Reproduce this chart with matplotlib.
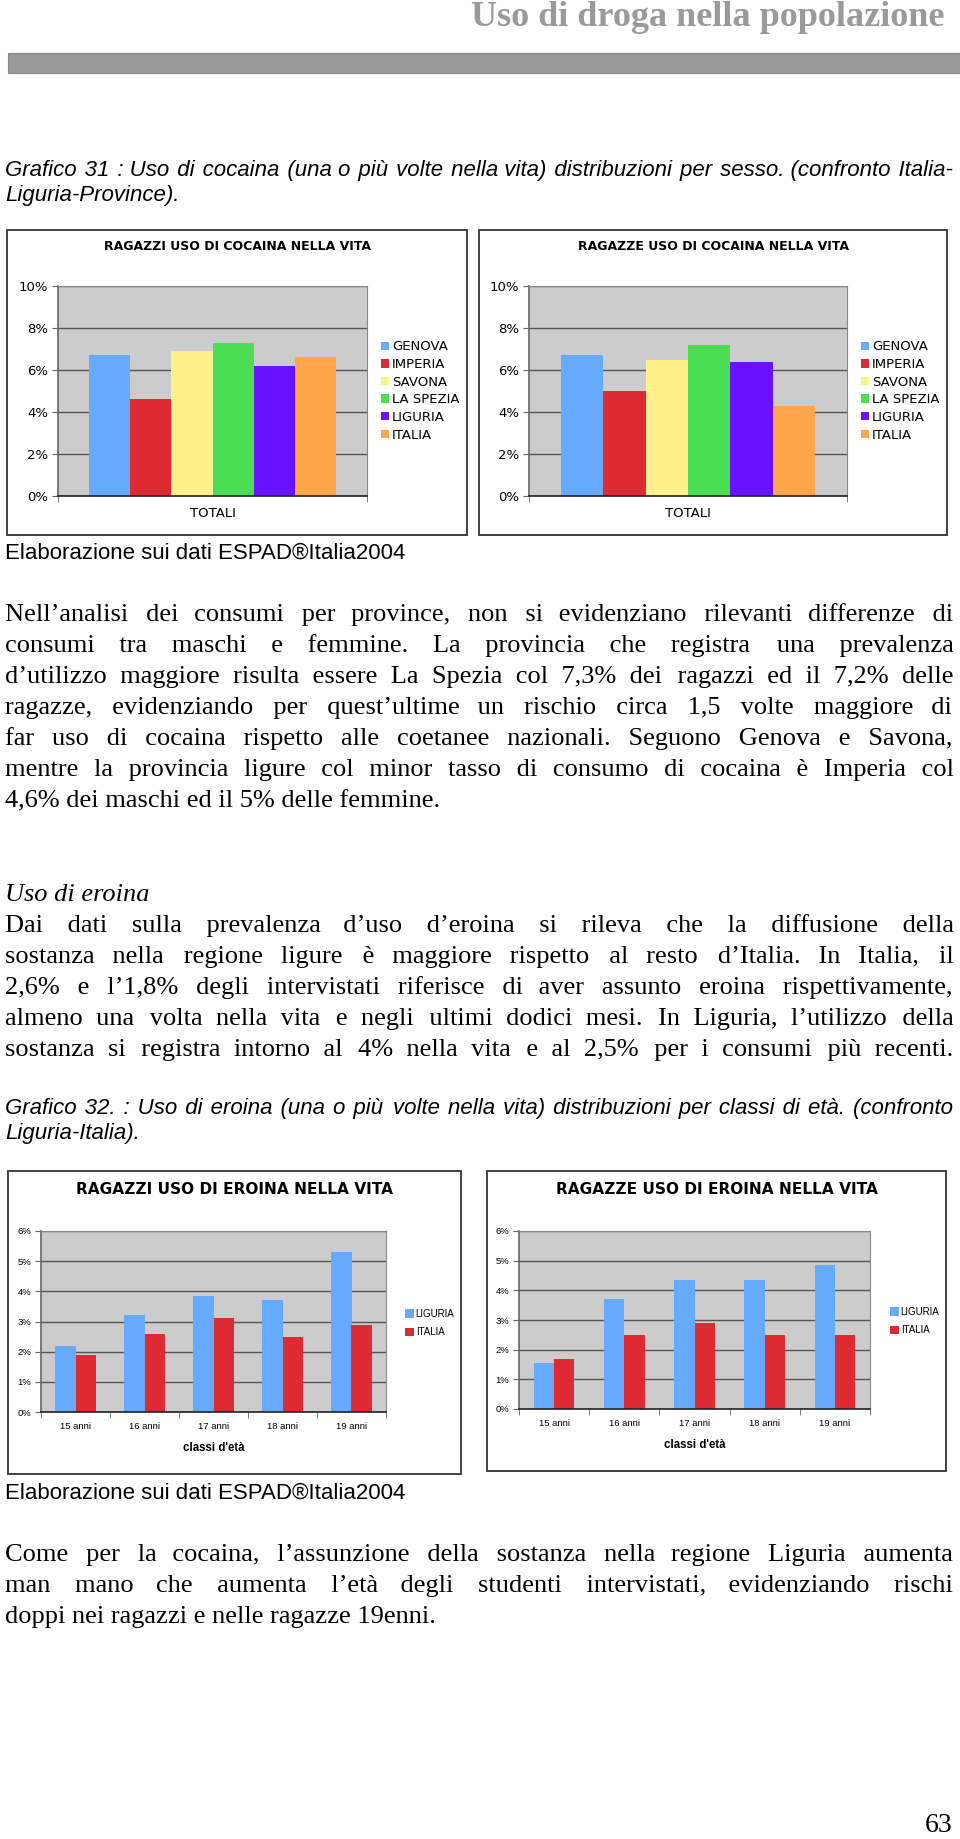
import matplotlib
matplotlib.use('Agg')
import matplotlib.pyplot as plt
from matplotlib.patches import Rectangle
import numpy as np

W, H = 960, 1839

# ---- data ----
province = ['GENOVA', 'IMPERIA', 'SAVONA', 'LA SPEZIA', 'LIGURIA', 'ITALIA']
province_colors = ['#66aaff', '#dd2a33', '#fff08c', '#4cdd55', '#6a12ff', '#ffa54c']
cocaina_ragazzi = [6.7, 4.6, 6.9, 7.3, 6.2, 6.6]
cocaina_ragazze = [6.7, 5.0, 6.5, 7.2, 6.4, 4.3]

eta = ['15 anni', '16 anni', '17 anni', '18 anni', '19 anni']
aree = ['LIGURIA', 'ITALIA']
aree_colors = ['#66aaff', '#dd2a33']
eroina_ragazzi_liguria = [2.2, 3.2, 3.85, 3.7, 5.3]
eroina_ragazzi_italia = [1.9, 2.6, 3.1, 2.5, 2.9]
eroina_ragazze_liguria = [1.55, 3.7, 4.35, 4.35, 4.85]
eroina_ragazze_italia = [1.7, 2.5, 2.9, 2.5, 2.5]

SERIF = ['Liberation Serif', 'DejaVu Serif']
SANS = ['Liberation Sans', 'DejaVu Sans']
VERD = 'DejaVu Sans'
BODY = 19
CAP = 16
HAIR = '\u200a'

fig = plt.figure(figsize=(W / 100, H / 100), dpi=100)
renderer = fig.canvas.get_renderer()


def fx(x):
    return x / W


def fy(y):
    return 1 - y / H


def rect(x0, yt, x1, yb):
    return [fx(x0), fy(yb), (x1 - x0) / W, (yb - yt) / H]


def text_width(s, **kw):
    t = fig.text(0, 0, s, **kw)
    w = t.get_window_extent(renderer).width
    t.remove()
    return w


def line_of_text(line, y, size, family, style='normal', fill=True, x0=5, x1=953):
    """One line of running text (y = middle of the lowercase letters).
    Justified lines get extra hair spaces between the words."""
    kw = dict(fontsize=size, family=family, style=style)
    s = line
    if fill:
        words = line.split(' ')
        natural = text_width(line, **kw)
        hair = (text_width('a' + HAIR * 20 + 'a', **kw) - text_width('aa', **kw)) / 20
        extra = (x1 - x0 - natural) / (len(words) - 1)
        s = words[0]
        want = used = 0.0
        for w in words[1:]:
            want += extra
            k = max(0, int(round((want - used) / hair)))
            used += k * hair
            s += ' ' + HAIR * k + w
    base = y + 0.24 * size * 100 / 72
    fig.text(fx(x0), fy(base), s, va='baseline', ha='left', **kw)


def box(x0, yt, x1, yb):
    fig.patches.append(Rectangle((fx(x0), fy(yb)), (x1 - x0) / W, (yb - yt) / H,
                                 transform=fig.transFigure, fill=False,
                                 edgecolor='#333333', linewidth=1.3))


def style_axes(ax, ymax, step, tick_size, tick_family):
    ax.set_facecolor('#cccccc')
    ax.set_ylim(0, ymax)
    ax.set_yticks(np.arange(0, ymax + 0.01, step))
    ax.set_yticklabels(['%d%%' % v for v in np.arange(0, ymax + 0.01, step)],
                       fontsize=tick_size, family=tick_family)
    ax.yaxis.grid(True, color='#555555', linewidth=1)
    ax.set_axisbelow(True)
    for s in ['top', 'right']:
        ax.spines[s].set_color('#888888')
        ax.spines[s].set_linewidth(0.8)
    ax.spines['left'].set_color('#666666')
    ax.spines['left'].set_linewidth(1.2)
    ax.spines['bottom'].set_color('#222222')
    ax.spines['bottom'].set_linewidth(1.2)
    ax.tick_params(axis='y', direction='out', length=4, color='#666666', pad=3)


# ---- page header ----
fig.text(fx(944), fy(17), 'Uso di droga nella popolazione', ha='right', va='center',
         fontsize=26, family=SERIF, weight='bold', color='#9a9a9a')
fig.patches.append(Rectangle((fx(8), fy(73)), 1, 20 / H, transform=fig.transFigure,
                             facecolor='#999999', edgecolor='#888888', linewidth=0.8))

line_of_text('Grafico 31 : Uso di cocaina (una o più volte nella vita) distribuzioni per sesso. (confronto Italia-',
             171, CAP, SANS, style='italic')
line_of_text('Liguria-Province).', 196, CAP, SANS, style='italic', fill=False)

# ---- cocaine charts ----
coca = [
    ('RAGAZZI USO DI COCAINA NELLA VITA', cocaina_ragazzi, (7, 230, 467, 535), (58, 286, 367, 496), 381),
    ('RAGAZZE USO DI COCAINA NELLA VITA', cocaina_ragazze, (479, 230, 947, 535), (529, 286, 847, 496), 861),
]
for title, vals, b, a, legx in coca:
    box(*b)
    fig.text(fx((b[0] + b[2]) / 2), fy(246), title, ha='center', va='center',
             fontsize=9, family=VERD, weight='bold')
    ax = fig.add_axes(rect(*a))
    style_axes(ax, 10, 2, 9.5, VERD)
    n = len(province)
    bw = 0.8 / n
    bars = []
    for i, (p, v, c) in enumerate(zip(province, vals, province_colors)):
        bars.append(ax.bar(-0.4 + bw * (i + 0.5), v, bw, color=c, label=p))
    ax.set_xlim(-0.5, 0.5)
    ax.set_xticks([0])
    ax.set_xticklabels(['TOTALI'], fontsize=9.5, family=VERD)
    ax.tick_params(axis='x', length=0, pad=8)
    ax.set_xticks([-0.5, 0.5], minor=True)
    ax.tick_params(axis='x', which='minor', length=4, direction='out', color='#666666')
    fig.legend(handles=bars, labels=province, loc='center left',
               bbox_to_anchor=(fx(legx), fy(391)), frameon=False,
               prop={'family': VERD, 'size': 9.5}, handlelength=0.6, handleheight=0.6,
               handletextpad=0.25, labelspacing=0.35, borderpad=0, borderaxespad=0)

fig.text(fx(5), fy(553), 'Elaborazione sui dati ESPAD®Italia2004', ha='left', va='center',
         fontsize=CAP, family=SANS)

# ---- paragraph 1 ----
p1 = [
    'Nell’analisi dei consumi per province, non si evidenziano rilevanti differenze di',
    'consumi tra maschi e femmine. La provincia che registra una prevalenza',
    'd’utilizzo maggiore risulta essere La Spezia col 7,3% dei ragazzi ed il 7,2% delle',
    'ragazze, evidenziando per quest’ultime un rischio circa 1,5 volte maggiore di',
    'far uso di cocaina rispetto alle coetanee nazionali. Seguono Genova e Savona,',
    'mentre la provincia ligure col minor tasso di consumo di cocaina è Imperia col',
    '4,6% dei maschi ed il 5% delle femmine.',
]
for i, ln in enumerate(p1):
    line_of_text(ln, 615 + i * 31, BODY, SERIF, fill=i < len(p1) - 1)

line_of_text('Uso di eroina', 895, BODY, SERIF, style='italic', fill=False)
p2 = [
    'Dai dati sulla prevalenza d’uso d’eroina si rileva che la diffusione della',
    'sostanza nella regione ligure è maggiore rispetto al resto d’Italia. In Italia, il',
    '2,6% e l’1,8% degli intervistati riferisce di aver assunto eroina rispettivamente,',
    'almeno una volta nella vita e negli ultimi dodici mesi. In Liguria, l’utilizzo della',
    'sostanza si registra intorno al 4% nella vita e al 2,5% per i consumi più recenti.',
]
for i, ln in enumerate(p2):
    line_of_text(ln, 926 + i * 31, BODY, SERIF)

line_of_text('Grafico 32. : Uso di eroina (una o più volte nella vita) distribuzioni per classi di età. (confronto',
             1109, CAP, SANS, style='italic')
line_of_text('Liguria-Italia).', 1134, CAP, SANS, style='italic', fill=False)

# ---- heroin charts ----
ero = [
    ('RAGAZZI USO DI EROINA NELLA VITA', eroina_ragazzi_liguria, eroina_ragazzi_italia,
     (8, 1171, 461, 1474), (41, 1231, 386, 1412), 405, 1323),
    ('RAGAZZE USO DI EROINA NELLA VITA', eroina_ragazze_liguria, eroina_ragazze_italia,
     (487, 1171, 946, 1471), (519, 1231, 870, 1409), 890, 1321),
]
for title, lig, ita, b, a, legx, legy in ero:
    box(*b)
    fig.text(fx((b[0] + b[2]) / 2), fy(1189), title, ha='center', va='center',
             fontsize=11.1, family=VERD, weight='bold')
    ax = fig.add_axes(rect(*a))
    style_axes(ax, 6, 1, 6.8, SANS)
    x = np.arange(len(eta))
    bw = 0.29
    b1 = ax.bar(x - bw / 2, lig, bw, color=aree_colors[0], label=aree[0])
    b2 = ax.bar(x + bw / 2, ita, bw, color=aree_colors[1], label=aree[1])
    ax.set_xlim(-0.5, len(eta) - 0.5)
    ax.set_xticks(x)
    ax.set_xticklabels(eta, fontsize=6.8, family=SANS)
    ax.tick_params(axis='x', length=0, pad=7)
    ax.set_xticks(np.arange(-0.5, len(eta)), minor=True)
    ax.tick_params(axis='x', which='minor', length=4, direction='out', color='#666666')
    ax.set_xlabel("classi d'età", fontsize=8.3, family=SANS, weight='bold', labelpad=8)
    fig.legend(handles=[b1, b2], labels=aree, loc='center left',
               bbox_to_anchor=(fx(legx), fy(legy)), frameon=False,
               prop={'family': SANS, 'size': 7}, handlelength=0.9, handleheight=0.9,
               handletextpad=0.2, labelspacing=0.85, borderpad=0, borderaxespad=0)

fig.text(fx(5), fy(1493), 'Elaborazione sui dati ESPAD®Italia2004', ha='left', va='center',
         fontsize=CAP, family=SANS)

p3 = [
    'Come per la cocaina, l’assunzione della sostanza nella regione Liguria aumenta',
    'man mano che aumenta l’età degli studenti intervistati, evidenziando rischi',
    'doppi nei ragazzi e nelle ragazze 19enni.',
]
for i, ln in enumerate(p3):
    line_of_text(ln, 1555 + i * 31, BODY, SERIF, fill=i < len(p3) - 1)

fig.text(fx(952), fy(1826), '63', ha='right', va='center', fontsize=20, family=SERIF)

fig.savefig('out.png', dpi=100)
